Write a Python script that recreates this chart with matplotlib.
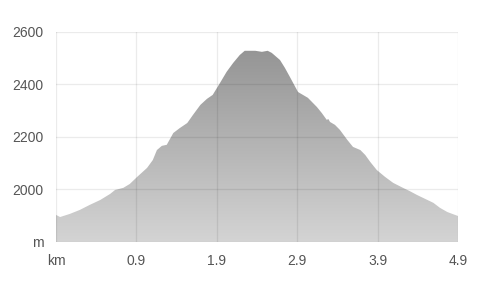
import numpy as np
import matplotlib
matplotlib.use("Agg")
import matplotlib.pyplot as plt
from matplotlib.colors import LinearSegmentedColormap

# elevation profile
dist_km = [0.00, 0.05, 0.17, 0.29, 0.41, 0.54, 0.66, 0.72, 0.82, 0.90,
           0.99, 1.11, 1.18, 1.23, 1.29, 1.35, 1.43, 1.51, 1.60, 1.67,
           1.76, 1.84, 1.91, 2.00, 2.08, 2.16, 2.24, 2.30, 2.43, 2.51,
           2.58, 2.63, 2.73, 2.79, 2.85, 2.95, 3.01, 3.07, 3.18, 3.24,
           3.30, 3.32, 3.34, 3.40, 3.46, 3.55, 3.62, 3.71, 3.77, 3.83,
           3.91, 4.01, 4.11, 4.23, 4.31, 4.40, 4.50, 4.60, 4.68, 4.77,
           4.83, 4.90]
elev_m = [1903, 1895, 1907, 1922, 1941, 1960, 1983, 1998, 2006, 2021,
          2048, 2082, 2112, 2150, 2166, 2170, 2215, 2234, 2253, 2284,
          2322, 2345, 2360, 2406, 2448, 2482, 2512, 2528, 2528, 2524,
          2528, 2520, 2493, 2463, 2429, 2371, 2360, 2349, 2314, 2291,
          2265, 2268, 2257, 2246, 2227, 2189, 2162, 2150, 2131, 2105,
          2074, 2048, 2025, 2006, 1994, 1979, 1964, 1949, 1930, 1914,
          1907, 1899]

x_ticks = list(np.linspace(0, 4.9, 6))
x_labels = ["km", "0.9", "1.9", "2.9", "3.9", "4.9"]
y_ticks = [1800, 2000, 2200, 2400, 2600]
y_labels = ["m", "2000", "2200", "2400", "2600"]

plt.rcParams["font.family"] = ["Liberation Sans", "DejaVu Sans"]

fig = plt.figure(figsize=(5.0, 2.98), dpi=100)
ax = fig.add_axes([0.112, 0.188, 0.804, 0.705])

ax.set_xlim(0, 4.9)
ax.set_ylim(1800, 2600)

# gradient fill clipped to the profile
poly = ax.fill_between(dist_km, elev_m, 1800, color="none", linewidth=0)
cmap = LinearSegmentedColormap.from_list("g", ["#d4d4d4", "#959595"])
grad = np.linspace(0, 1, 256).reshape(-1, 1)
img = ax.imshow(grad, cmap=cmap, aspect="auto", origin="lower",
                extent=[0, 4.9, 1800, 2530], zorder=1)
path = poly.get_paths()[0]
img.set_clip_path(path, transform=ax.transData)

ax.set_xticks(x_ticks)
ax.set_xticklabels(x_labels)
ax.set_yticks(y_ticks)
ax.set_yticklabels(y_labels)
ax.grid(True, color="black", alpha=0.08, linewidth=0.9, zorder=2)
ax.set_axisbelow(False)
ax.tick_params(length=0, labelsize=10, labelcolor="#555555")
ax.tick_params(axis="y", pad=9)
ax.tick_params(axis="x", pad=9)
for s in ax.spines.values():
    s.set_visible(False)

fig.savefig("out.png", dpi=100)
